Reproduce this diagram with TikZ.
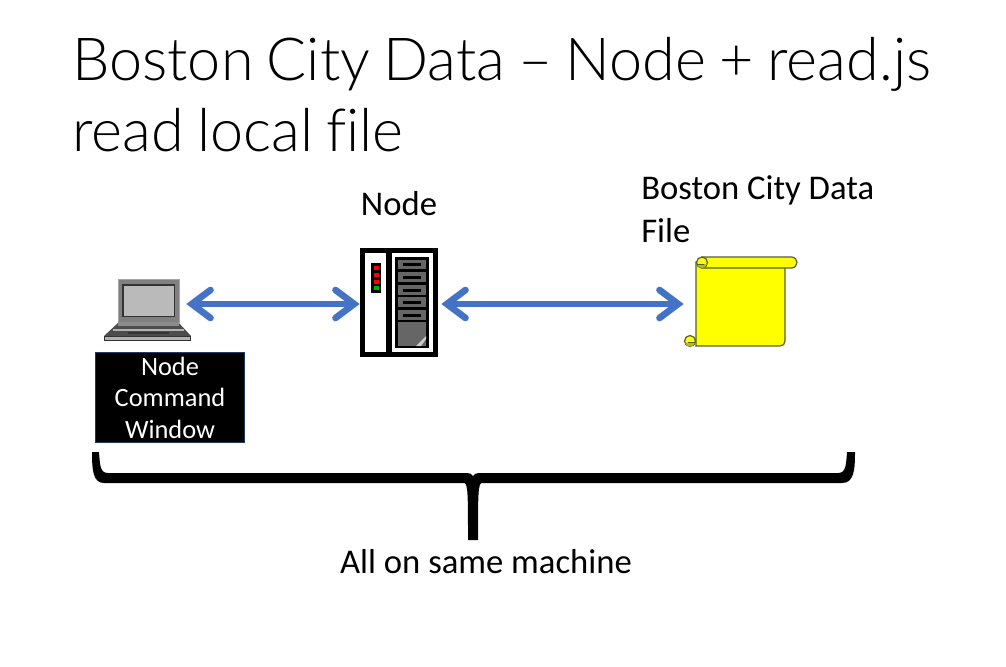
\documentclass[tikz,border=0pt]{standalone}
\usepackage{fontspec}
\setmainfont[Ligatures=NoCommon]{Carlito}
\newfontfamily\titlefont[Ligatures=NoCommon]{Lato Light}
\usetikzlibrary{arrows.meta}
\definecolor{arrowblue}{HTML}{4472C4}
\definecolor{boxedge}{HTML}{1F3864}
\definecolor{scrolledge}{HTML}{55602F}
\definecolor{scrollyellow}{HTML}{FFFF00}
\definecolor{curlyellow}{HTML}{B8B820}
\tikzset{
  px/.style={x=0.75pt,y=-0.75pt},
  title/.style={anchor=base west,inner sep=0pt,font=\titlefont\fontsize{44.5}{50}\selectfont,text=black},
  label/.style={inner sep=0pt,font=\fontsize{26}{30}\selectfont,text=black},
  anchorbox/.style={inner sep=0pt,minimum width=#1,minimum height=54pt},
  link/.style={draw=arrowblue,line width=5pt,{Straight Barb[length=14pt,width=21pt,line width=5pt,line cap=round,line join=miter]}-{Straight Barb[length=14pt,width=21pt,line width=5pt,line cap=round,line join=miter]}},
  cmdtext/.style={inner sep=0pt,text=white,font=\fontsize{19.8}{22}\selectfont},
  scrollpart/.style={fill=scrollyellow,draw=scrolledge,line width=0.9pt},
  curl/.style={fill=scrollyellow,draw=scrolledge,line width=0.9pt},
  curlshade/.style={fill=curlyellow},
}
\begin{document}
\begin{tikzpicture}[px]
\useasboundingbox (0,0) rectangle (1006,667);
\fill[white] (0,0) rectangle (1006,667);
% title
\node[title] (t1) at (72,80) {\spaceskip=9.9pt Boston City Data – Node + read.js};
\node[title] (t2) at (72,151) {\spaceskip=9.9pt read local file};
% node placeholders used by connectors
\node[anchorbox=61.5pt] (laptop) at (145,304) {};
\node[anchorbox=60.75pt] (server) at (400.5,304) {};
\node[anchorbox=84pt] (scroll) at (740,304) {};
% laptop
\fill[black!50] (118,279) rectangle (179,322);
\draw[black!35,line width=0.5pt] (118,279) rectangle (179,322);
\fill[black!80] (122,284) rectangle (175,317);
\fill[black!27] (123.5,285.5) rectangle (173.5,315.5);
\fill[black!70] (119,322) -- (178,322) -- (191,336) -- (104,336) -- cycle;
\fill[black!45] (118,322) rectangle (179,326);
\fill[black!30] (113,329) rectangle (184,331);
\fill[black!80] (128,331.5) rectangle (169,334);
\fill[black!30] (104.5,336) rectangle (190.5,340);
\draw[black!80,line width=0.6pt] (104.5,336) rectangle (190.5,340);
% command window
\node[draw=boxedge,fill=black,line width=0.75pt,minimum width=112pt,minimum height=68pt,inner sep=0pt] (cmd) at (170,397.5) {};
\node[cmdtext] (c1) at (170,369.5) {\strut Node};
\node[cmdtext] (c2) at (170,401) {\strut Command};
\node[cmdtext] (c3) at (170,433) {\strut Window};
% server
\fill[black] (360,248) rectangle (438,357);
\fill[white] (365,253) rectangle (386,352);
\fill[white] (392,253) rectangle (433,352);
\fill[black] (395,257) rectangle (429,348);
\fill[black] (371,263) rectangle (381,293);
\foreach \ly/\lc in {268/red,275/red,282/red,288/green!70!black}
  \fill[\lc] (373.5,\ly-2) rectangle (378.5,\ly+2);
\foreach \dt/\db in {260/269,272/282,285/295,297/307,310/320}{
  \fill[black!60] (398,\dt) rectangle (426,\db);
  \fill[black] (403,{(\dt+\db)/2-1.5}) rectangle (421,{(\dt+\db)/2+1.5});
}
\fill[black!60] (398,322) rectangle (426,346);
\fill[black!20] (416,346) -- (426,336) -- (426,339) -- (421,346) -- cycle;
% scroll
\draw[scrollpart] (696,262) -- (696,346) -- (780,346) .. controls (783,346) and (785,344) .. (785,341) -- (785,262) -- cycle;
\draw[scrollpart] (702,257) -- (791.5,257) .. controls (795,257) and (797,260) .. (797,262.5) .. controls (797,265) and (795,268) .. (791.5,268) -- (702,268) -- cycle;
\draw[curl] (702,262.5) circle[radius=5.5];
\draw[curl] (690,341) circle[radius=5.5];
\fill[curlshade] (697,264) -- (707,264) .. controls (706,267) and (704,268) .. (702,268) .. controls (699,268) and (697.5,266) .. (697,264) -- cycle;
\fill[curlshade] (685,342.5) -- (695,342.5) .. controls (694.5,345) and (692,346.5) .. (690,346.5) .. controls (687.5,346.5) and (685.5,345) .. (685,342.5) -- cycle;
\draw[scrolledge,line width=0.7pt] (697,264) -- (704,264);
\draw[scrolledge,line width=0.7pt] (688,342.5) -- (695,342.5);
% labels
\node[label] (nodelabel) at (399,204) {Node};
\node[label,anchor=base west] (d1) at (641,199) {Boston City Data};
\node[label,anchor=base west] (d2) at (641,242) {File};
\node[label] (same) at (486,562) {All on same machine};
% arrows
\draw[link] (laptop.east) -- (server.west);
\draw[link] (server.east) -- (scroll.west);
% brace
\fill[black] (92,452) -- (99,452) .. controls (100,465) and (100,473) .. (108,473)
  -- (465,473) .. controls (470,473) and (472,474) .. (473,476)
  .. controls (474,474) and (476,473) .. (481,473)
  -- (838,473) .. controls (846,473) and (846,465) .. (847,452) -- (855,452)
  .. controls (855,470) and (854,483) .. (842,483)
  -- (482,483) .. controls (478,483) and (478,495) .. (478,540) -- (468,540)
  .. controls (468,495) and (468,483) .. (464,483)
  -- (104,483) .. controls (93,483) and (92,470) .. (92,452) -- cycle;
\end{tikzpicture}
\end{document}
